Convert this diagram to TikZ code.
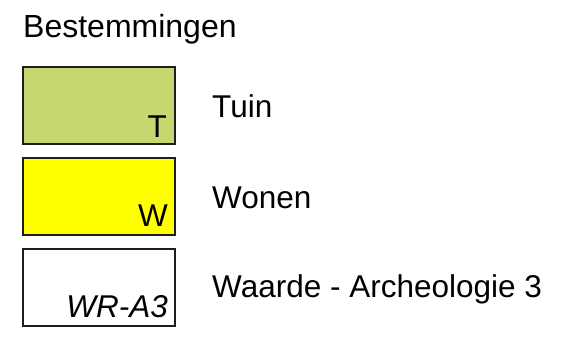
\documentclass[tikz,border=0pt]{standalone}
\usepackage{fontspec}
\setmainfont{Liberation Sans}
\definecolor{tuingreen}{RGB}{200,214,112}
\definecolor{woonyellow}{RGB}{255,255,0}
\definecolor{edge}{RGB}{30,30,30}
\begin{document}
\begin{tikzpicture}[x=1pt,y=-1pt,
  legendbox/.style={draw=edge,line width=1.6pt},
  boxlabel/.style={anchor=base east,inner sep=0pt,font=\fontsize{31.5}{31.5}\selectfont},
  itemtext/.style={anchor=base west,inner sep=0pt,font=\fontsize{31.5}{31.5}\selectfont}]
\useasboundingbox (0,0) rectangle (572,338);
\node[anchor=base west,inner sep=0pt,font=\fontsize{32}{32}\selectfont] (title) at (23,37) {Bestemmingen};
\draw[legendbox,fill=tuingreen] (23,67) rectangle (175,144);
\node[boxlabel] (lt) at (167,137) {T};
\node[itemtext] (tt) at (212,117) {Tuin};
\draw[legendbox,fill=woonyellow] (23,158) rectangle (175,235);
\node[boxlabel] (lw) at (168,226) {W};
\node[itemtext] (tw) at (212,208) {Wonen};
\draw[legendbox,fill=white] (23,249) rectangle (175,326);
\node[boxlabel] (la) at (168,317) {\itshape WR-A3};
\node[itemtext] (ta) at (212,297) {Waarde - Archeologie 3};
\end{tikzpicture}
\end{document}
